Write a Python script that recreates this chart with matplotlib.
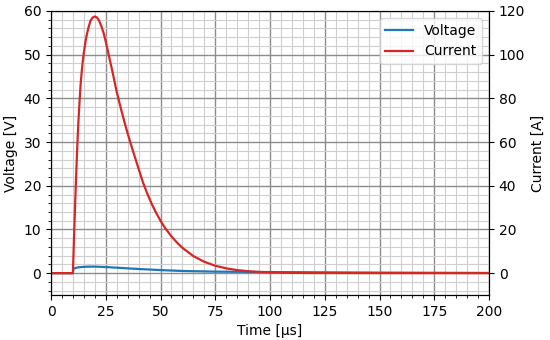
import matplotlib
matplotlib.use("Agg")
import matplotlib.pyplot as plt
from matplotlib.ticker import MultipleLocator

# Time [µs] and current [A]
t_current = [0, 10, 10.5, 11, 11.5, 12, 12.5, 13, 13.5, 14, 14.5, 15, 16, 17, 18, 19, 20, 21,
             22, 23, 24, 25, 26, 27, 28, 29, 30, 31, 32, 33, 34, 35, 36, 37, 38, 40, 42, 44, 46,
             48, 50, 52, 55, 58, 60, 65, 70, 75, 80, 85, 90, 95, 100, 110, 120, 150, 200]
current = [0, 0, 16, 31, 45, 58, 69, 78, 86, 92, 97, 101, 107.5, 112, 115.5, 117, 117.5, 117,
           115.5, 113, 110, 106, 101.5, 97, 92.5, 87.8, 83, 79, 75, 71.2, 67.5, 64, 60.6, 57.3,
           54.1, 47.8, 41.5, 36.3, 31.7, 27.6, 24, 20.8, 16.8, 13.5, 11.6, 7.8, 5.2, 3.4, 2.2,
           1.4, 0.9, 0.55, 0.35, 0.15, 0.08, 0.03, 0.0]

# Time [µs] and voltage [V]
t_voltage = [0, 10, 10.2, 12, 15, 18, 20, 25, 30, 40, 50, 60, 75, 100, 125, 150, 200]
voltage = [0, 0, 1.0, 1.3, 1.45, 1.5, 1.5, 1.4, 1.25, 0.95, 0.7, 0.5, 0.35, 0.25, 0.18, 0.12, 0.05]

fig = plt.figure(figsize=(5.5, 3.4), dpi=100)
ax = fig.add_axes([51/550, 1-295/340, (489-51)/550, (295-11)/340])
ax2 = ax.twinx()

l1, = ax.plot(t_voltage, voltage, color="#1f77b4", lw=1.6, label="Voltage")
l2, = ax2.plot(t_current, current, color="#d62728", lw=1.6, label="Current")

ax.set_xlim(0, 200)
ax.set_ylim(-5, 60)
ax2.set_ylim(-10, 120)

ax.xaxis.set_major_locator(MultipleLocator(25))
ax.xaxis.set_minor_locator(MultipleLocator(5))
ax.yaxis.set_major_locator(MultipleLocator(10))
ax.yaxis.set_minor_locator(MultipleLocator(2))
ax2.yaxis.set_major_locator(MultipleLocator(20))

ax.grid(which="major", color="#8c8c8c", lw=1.0)
ax.grid(which="minor", color="#cfcfcf", lw=0.8)
ax.set_axisbelow(True)

ax.set_xlabel("Time [µs]", fontsize=10)
ax.set_ylabel("Voltage [V]", fontsize=10)
ax2.set_ylabel("Current [A]", fontsize=10)
ax.tick_params(labelsize=10)
ax2.tick_params(labelsize=10)

ax2.legend(handles=[l1, l2], loc="upper right", fontsize=10)

fig.savefig("out.png", dpi=100)
